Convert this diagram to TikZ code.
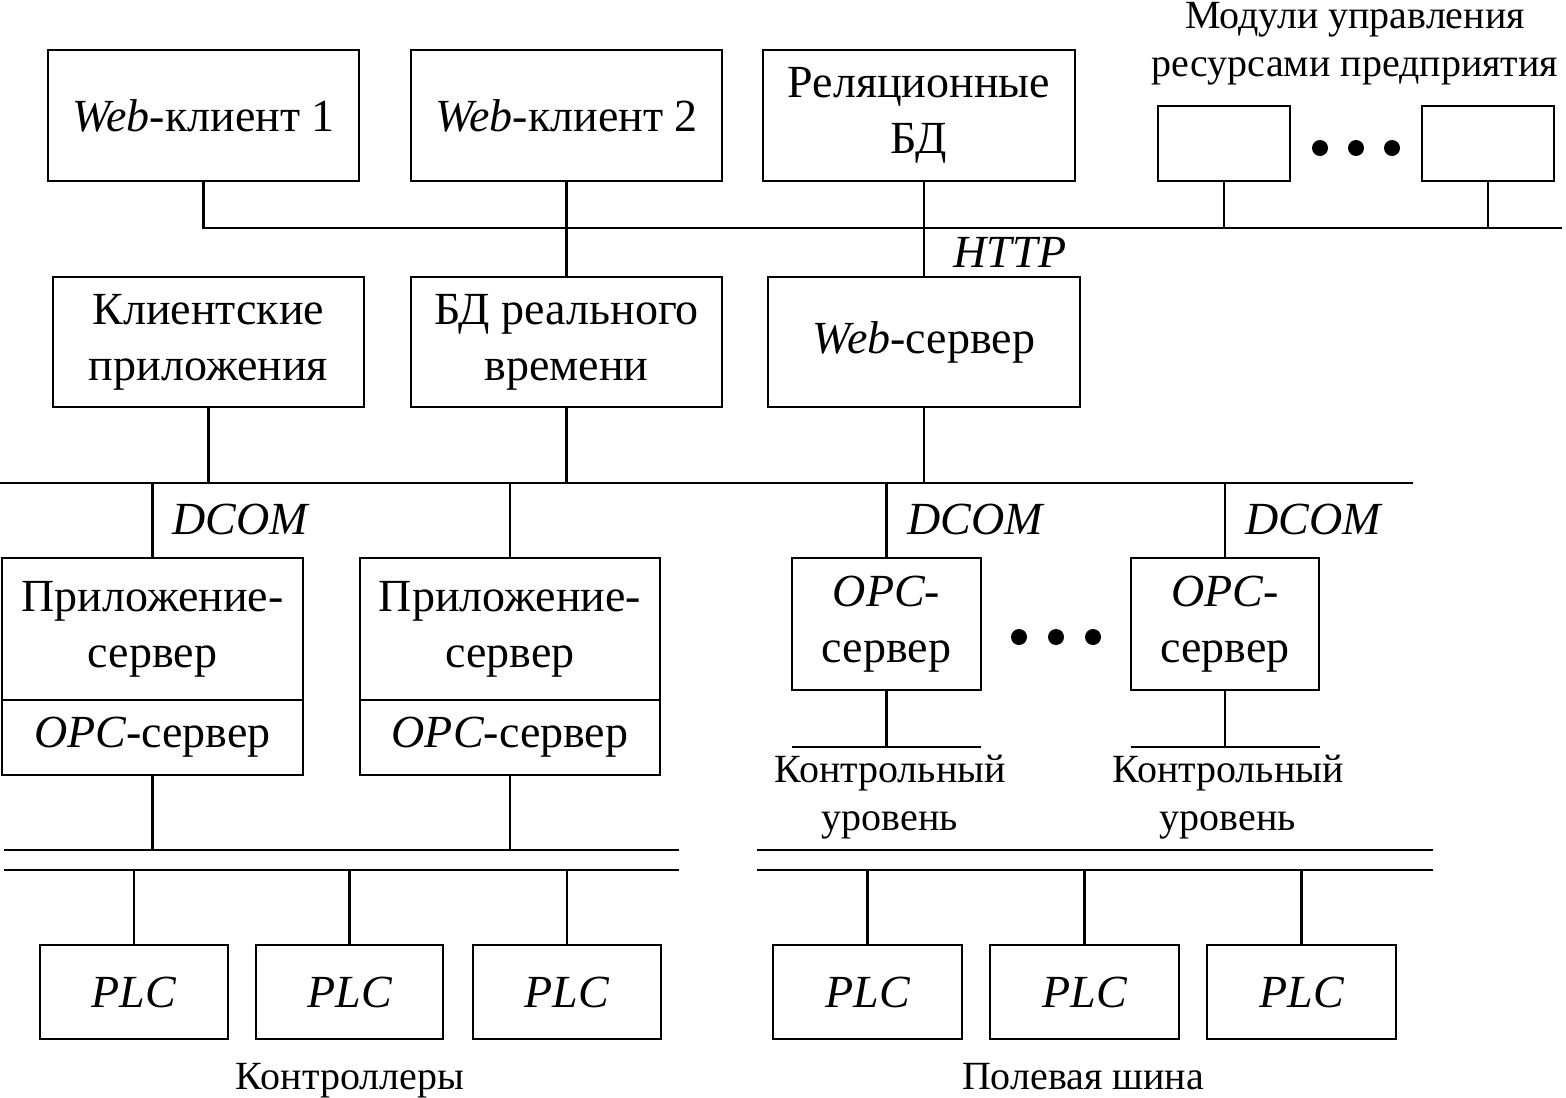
\documentclass[tikz,border=0pt]{standalone}
\usepackage{fontspec}
\setmainfont{Liberation Serif}
\newcommand\lat[1]{{\itshape #1}}
\tikzset{
  box/.style={draw, line width=1.1pt, inner sep=0pt, align=center, font=\fontsize{23}{28}\selectfont},
  lbl/.style={inner sep=0pt, align=center, font=\fontsize{20}{24}\selectfont},
  ital/.style={inner sep=0pt, font=\itshape\fontsize{23}{28}\selectfont},
  ln/.style={line width=1.1pt},
  dotc/.style={fill=black},
}
\newcommand\bx[6]{%
  \node[box, minimum width={(#4-#2)*0.5pt}, minimum height={(#5-#3)*0.5pt}]
    (#1) at ({(#2+#4)/2},{(#3+#5)/2}) {#6};}
\begin{document}
\begin{tikzpicture}[x=0.5pt,y=-0.5pt]
\useasboundingbox (0,0) rectangle (1566,1097);
% top row
\bx{w1}{48}{50}{359}{181}{\lat{Web}-клиент 1}
\bx{w2}{411}{50}{722}{181}{\lat{Web}-клиент 2}
\bx{rel}{763}{50}{1075}{181}{Реляционные\\БД}
\bx{m1}{1158}{106}{1290}{181}{}
\bx{m2}{1422}{106}{1554}{181}{}
\node[lbl] (mod) at (1355,44) {Модули управления\\ресурсами предприятия};
\fill[dotc] (1320,148) circle[radius=4pt];
\fill[dotc] (1356,148) circle[radius=4pt];
\fill[dotc] (1392,148) circle[radius=4pt];
% second row
\bx{kl}{53}{277}{364}{407}{Клиентские\\приложения}
\bx{rt}{411}{277}{722}{407}{БД реального\\времени}
\bx{ws}{768}{277}{1080}{407}{\lat{Web}-сервер}
% third row
\bx{as1a}{2}{558}{303}{700}{Приложение-\\сервер}
\bx{as1b}{2}{700}{303}{775}{\lat{OPC}-сервер}
\bx{as2a}{360}{558}{660}{700}{Приложение-\\сервер}
\bx{as2b}{360}{700}{660}{775}{\lat{OPC}-сервер}
\bx{op1}{792}{558}{981}{690}{\lat{OPC}-\\сервер}
\bx{op2}{1131}{558}{1319}{690}{\lat{OPC}-\\сервер}
\fill[dotc] (1019,637) circle[radius=4pt];
\fill[dotc] (1056,637) circle[radius=4pt];
\fill[dotc] (1093,637) circle[radius=4pt];
% PLC row
\bx{p1}{40}{945}{228}{1039}{\lat{PLC}}
\bx{p2}{256}{945}{443}{1039}{\lat{PLC}}
\bx{p3}{473}{945}{661}{1039}{\lat{PLC}}
\bx{p4}{773}{945}{962}{1039}{\lat{PLC}}
\bx{p5}{990}{945}{1179}{1039}{\lat{PLC}}
\bx{p6}{1207}{945}{1396}{1039}{\lat{PLC}}
% bus 1
\coordinate (b1R) at (1562,228);
\draw[ln] (w1.south) |- (b1R);
\draw[ln] (w2.south) -- (rt.north);
\draw[ln] (ws.north |- rel.south) -- (ws.north);
\draw[ln] (m1.south) -- (m1.south |- b1R);
\draw[ln] (m2.south) -- (m2.south |- b1R);
\node[ital] (http) at (1010,252) {HTTP};
% bus 2
\coordinate (b2L) at (0,483);
\coordinate (b2R) at (1413,483);
\draw[ln] (b2L) -- (b2R);
\draw[ln] (kl.south) -- (kl.south |- b2L);
\draw[ln] (rt.south) -- (rt.south |- b2L);
\draw[ln] (ws.south) -- (ws.south |- b2L);
\draw[ln] (as1a.north |- b2L) -- (as1a.north);
\draw[ln] (as2a.north |- b2L) -- (as2a.north);
\draw[ln] (op1.north |- b2L) -- (op1.north);
\draw[ln] (op2.north |- b2L) -- (op2.north);
\node[ital] (dc1) at (240,519) {DCOM};
\node[ital] (dc2) at (975,519) {DCOM};
\node[ital] (dc3) at (1313,519) {DCOM};
% control level lines
\coordinate (lv1L) at (792,747); \coordinate (lv1R) at (981,747);
\coordinate (lv2L) at (1131,747); \coordinate (lv2R) at (1320,747);
\draw[ln] (lv1L) -- (lv1R);
\draw[ln] (lv2L) -- (lv2R);
\draw[ln] (op1.south) -- (op1.south |- lv1L);
\draw[ln] (op2.south) -- (op2.south |- lv2L);
\node[lbl] (kl1) at (890,797) {Контрольный\\уровень};
\node[lbl] (kl2) at (1228,797) {Контрольный\\уровень};
% lower buses
\coordinate (b3aL) at (4,850); \coordinate (b3aR) at (679,850);
\coordinate (b3bL) at (4,870); \coordinate (b3bR) at (679,870);
\coordinate (b3cL) at (757,850); \coordinate (b3cR) at (1433,850);
\coordinate (b3dL) at (757,870); \coordinate (b3dR) at (1433,870);
\draw[ln] (b3aL) -- (b3aR);
\draw[ln] (b3bL) -- (b3bR);
\draw[ln] (b3cL) -- (b3cR);
\draw[ln] (b3dL) -- (b3dR);
\draw[ln] (as1b.south) -- (as1b.south |- b3aL);
\draw[ln] (as2b.south) -- (as2b.south |- b3aL);
\draw[ln] (b3bL -| p1.north) -- (p1.north);
\draw[ln] (b3bL -| p2.north) -- (p2.north);
\draw[ln] (b3bL -| p3.north) -- (p3.north);
\draw[ln] (b3dL -| p4.north) -- (p4.north);
\draw[ln] (b3dL -| p5.north) -- (p5.north);
\draw[ln] (b3dL -| p6.north) -- (p6.north);
\node[lbl, anchor=base] (ctl) at (350,1089) {Контроллеры};
\node[lbl, anchor=base] (fb) at (1083,1089) {Полевая шина};
\end{tikzpicture}
\end{document}
